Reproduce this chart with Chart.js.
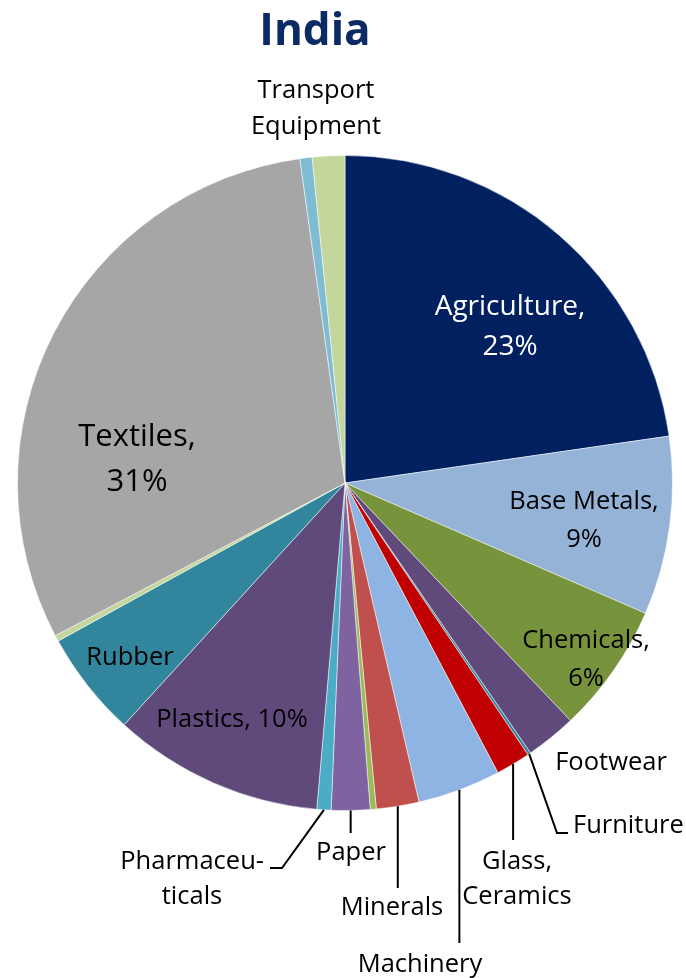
<!DOCTYPE html>
<html>
<head>
<meta charset="utf-8">
<script src="https://cdn.jsdelivr.net/npm/chart.js@4"></script>
<style>
  html, body { margin: 0; padding: 0; background: #fff; }
  #wrap { width: 686px; height: 978px; position: relative; }
</style>
</head>
<body>
<div id="wrap"><canvas id="pie" width="686" height="978"></canvas></div>
<script>
const chartTitle = 'India';

const categories = [
    'Agriculture', 'Base Metals', 'Chemicals', 'Footwear', 'Furniture',
    'Glass, Ceramics', 'Machinery', 'Minerals', 'Miscellaneous', 'Paper',
    'Pharmaceuticals', 'Plastics', 'Rubber', 'Stone', 'Textiles', 'Toys',
    'Transport Equipment'
];
// share of exports, percent
const shares = [
    22.7, 8.8, 6.4, 2.5, 0.15,
    1.7, 4.1, 2.1, 0.3, 1.9,
    0.7, 10.4, 5.2, 0.3, 30.5, 0.6,
    1.6
];
const colors = [
    '#002060', '#95B3D7', '#77933C', '#604A7B', '#31859C',
    '#C00000', '#8DB4E2', '#C0504D', '#9BBB59', '#7F62A0',
    '#4BACC6', '#604A7B', '#31859C', '#C3D69B', '#A6A6A6', '#7FBCD4',
    '#C3D69B'
];

// where each label goes (index into categories)
const labelLayout = [
    { i: 0, lines: ['Agriculture,', '23%'], x: 510, y: 307, gap: 40, color: '#fff', size: 28 },
    { i: 1, lines: ['Base Metals,', '9%'], x: 584, y: 502, gap: 38 },
    { i: 2, lines: ['Chemicals,', '6%'], x: 586, y: 641, gap: 38 },
    { i: 3, lines: ['Footwear'], x: 611, y: 763 },
    { i: 4, lines: ['Furniture'], x: 573, y: 826, align: 'left', leader: [[557, 833], [568, 833]] },
    { i: 5, lines: ['Glass,', 'Ceramics'], x: 517, y: 862, gap: 35, vline: 840 },
    { i: 6, lines: ['Machinery'], x: 420, y: 965, vline: 943 },
    { i: 7, lines: ['Minerals'], x: 392, y: 908, vline: 888 },
    { i: 9, lines: ['Paper'], x: 351, y: 853, vline: 833 },
    { i: 10, lines: ['Pharmaceu-'], x: 264, y: 862, align: 'right', leader: [[282, 868], [270, 868]] },
    { i: 10, lines: ['ticals'], x: 192, y: 897 },
    { i: 11, lines: ['Plastics, 10%'], x: 232, y: 720 },
    { i: 12, lines: ['Rubber'], x: 130, y: 658 },
    { i: 14, lines: ['Textiles,', '31%'], x: 137, y: 437, gap: 45, size: 31 },
    { i: 16, lines: ['Transport', 'Equipment'], x: 316, y: 91, gap: 36 }
];

const labelFont = '"Open Sans", "Noto Sans", sans-serif';

const pieLabels = {
    id: 'pieLabels',
    afterDraw(chart) {
        const ctx = chart.ctx;
        const meta = chart.getDatasetMeta(0);
        ctx.save();

        // title
        ctx.fillStyle = '#0B2A66';
        ctx.font = 'bold 44px ' + labelFont;
        ctx.textAlign = 'center';
        ctx.textBaseline = 'middle';
        ctx.fillText(chartTitle, 315, 32);

        labelLayout.forEach(lab => {
            const arc = meta.data[lab.i];
            const mid = (arc.startAngle + arc.endAngle) / 2;
            const ex = arc.x + Math.cos(mid) * arc.outerRadius;
            const ey = arc.y + Math.sin(mid) * arc.outerRadius;

            ctx.strokeStyle = '#000';
            ctx.lineWidth = 2;
            if (lab.vline) {
                ctx.beginPath();
                ctx.moveTo(ex, ey);
                ctx.lineTo(ex, lab.vline);
                ctx.stroke();
            }
            if (lab.leader) {
                ctx.beginPath();
                ctx.moveTo(ex, ey);
                lab.leader.forEach(p => ctx.lineTo(p[0], p[1]));
                ctx.stroke();
            }

            ctx.fillStyle = lab.color || '#000';
            ctx.font = (lab.size || 25.5) + 'px ' + labelFont;
            ctx.textAlign = lab.align || 'center';
            ctx.textBaseline = 'middle';
            lab.lines.forEach((t, k) => {
                ctx.fillText(t, lab.x, lab.y + k * (lab.gap || 36));
            });
        });
        ctx.restore();
    }
};

new Chart(document.getElementById('pie'), {
    type: 'pie',
    data: {
        labels: categories,
        datasets: [{
            data: shares,
            backgroundColor: colors,
            borderColor: 'rgba(255,255,255,0.5)',
            borderWidth: 1
        }]
    },
    options: {
        responsive: false,
        animation: false,
        events: [],
        layout: {
            padding: { left: 17, right: 13, top: 155, bottom: 167 }
        },
        plugins: {
            legend: { display: false },
            title: { display: false },
            tooltip: { enabled: false }
        }
    },
    plugins: [pieLabels]
});
</script>
</body>
</html>
